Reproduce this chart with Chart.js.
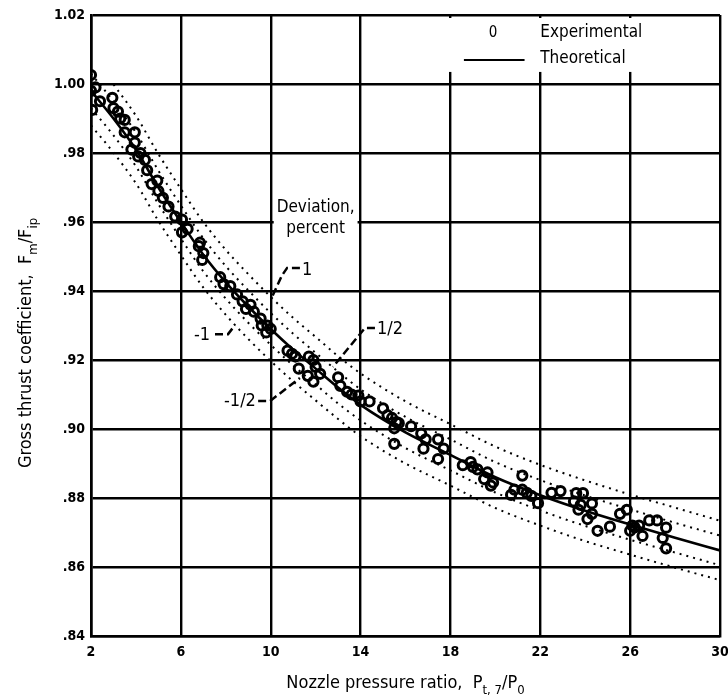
<!DOCTYPE html>
<html><head><meta charset="utf-8">
<script src="https://cdn.jsdelivr.net/npm/chart.js@4/dist/chart.umd.min.js"></script>
<style>html,body{margin:0;padding:0;background:#fff}#c{display:block}</style>
</head><body>
<canvas id="c" width="728" height="696"></canvas>
<script>
// ---- data ----
const pressureRatio = [2,3,4,5,6,7,8,9,10,11,12,13,14,16,18,20,22,24,26,28,30];
const theoretical   = [0.998,0.990,0.981,0.970,0.960,0.9505,0.9425,0.9355,0.929,0.923,0.9175,0.912,0.907,0.899,0.8925,0.886,0.8808,0.8763,0.8723,0.8685,0.8648];
const devPlus1      = [null,0.9999,0.9908,0.9797,0.9696,0.9600,0.9519,0.9449,0.9383,0.9322,0.9267,0.9211,0.9161,0.9080,0.9014,0.8949,0.8896,0.8851,0.8810,0.8772,0.8734];
const devPlusHalf   = [1.0030,0.9950,0.9859,0.9749,0.9648,0.9553,0.9472,0.9402,0.9336,0.9276,0.9221,0.9166,0.9115,0.9035,0.8970,0.8904,0.8852,0.8807,0.8767,0.8728,0.8691];
const devMinusHalf  = [0.9930,0.9851,0.9761,0.9652,0.9552,0.9457,0.9378,0.9308,0.9244,0.9184,0.9129,0.9074,0.9025,0.8945,0.8880,0.8816,0.8764,0.8719,0.8679,0.8642,0.8605];
const devMinus1     = [0.9880,0.9801,0.9712,0.9603,0.9504,0.9410,0.9331,0.9261,0.9197,0.9138,0.9083,0.9029,0.8979,0.8900,0.8836,0.8771,0.8720,0.8675,0.8636,0.8598,0.8562];

const expRatio = [2.0,2.0,2.05,2.4,2.2,2.95,3.0,3.2,3.3,3.5,3.5,3.95,3.95,3.8,4.1,4.2,4.4,4.5,4.7,4.95,5.0,5.2,5.45,5.75,6.05,6.05,6.3,6.85,6.95,6.8,7.0,7.75,7.9,8.2,8.5,8.75,8.9,9.1,9.25,9.55,9.6,9.85,9.8,10.0,10.75,10.95,11.1,11.25,11.7,11.9,12.0,11.65,11.9,12.2,13.0,13.1,13.4,13.6,13.9,14.0,14.4,15.0,15.2,15.4,15.5,15.6,15.7,15.5,16.25,16.7,16.8,16.9,17.45,17.45,17.7,18.55,18.9,19.0,19.2,19.5,19.65,19.8,19.9,20.7,20.85,21.2,21.2,21.4,21.6,21.9,22.5,22.9,23.5,23.6,23.9,23.7,23.8,24.3,24.1,24.3,24.55,25.1,25.55,25.85,26.0,26.1,26.2,26.4,26.55,26.85,27.2,27.6,27.45,27.6];
const expCoef  = [1.0026,0.998,0.9925,0.995,0.999,0.996,0.993,0.992,0.990,0.9896,0.986,0.986,0.983,0.981,0.979,0.980,0.978,0.975,0.971,0.972,0.969,0.967,0.9645,0.9616,0.9607,0.957,0.958,0.954,0.949,0.953,0.951,0.944,0.942,0.9414,0.939,0.937,0.9348,0.936,0.934,0.932,0.930,0.930,0.928,0.929,0.9227,0.9218,0.921,0.9175,0.921,0.920,0.918,0.9154,0.9137,0.916,0.915,0.9125,0.9108,0.910,0.9097,0.908,0.908,0.906,0.904,0.9032,0.9002,0.902,0.9017,0.8957,0.9008,0.8987,0.8943,0.897,0.897,0.8913,0.8943,0.8895,0.8904,0.889,0.8883,0.8855,0.8874,0.8836,0.8845,0.8809,0.8824,0.8865,0.8824,0.8815,0.8806,0.8785,0.8815,0.882,0.879,0.8814,0.8814,0.8766,0.878,0.8784,0.8739,0.8754,0.8705,0.8717,0.8754,0.8766,0.8705,0.872,0.8715,0.872,0.869,0.8735,0.8735,0.8714,0.8684,0.8654];

const xTickValues = [2,6,10,14,18,22,26,30];
const yTickValues = [0.84,0.86,0.88,0.90,0.92,0.94,0.96,0.98,1.00,1.02];
const yTickLabels = ['.84','.86','.88','.90','.92','.94','.96','.98','1.00','1.02'];

const xTitleParts = [['Nozzle pressure ratio,  P',0],['t, 7',1],['/P',0],['0',1]];
const yTitleParts = [['Gross thrust coefficient,  F',0],['m',1],['/F',0],['ip',1]];
const legendLabels = ['Experimental','Theoretical'];
const devLabel = {lines:['Deviation,','percent'], x:12.0, y:[0.9643,0.958], box:[10,14]};
const leaderLabels = [
  {text:'1',    x:11.62, y:0.9461, path:[[11.3,0.9467],[10.73,0.9467],[10.5,0.9445],[10.06,0.9383]]},
  {text:'-1',   x:6.94,  y:0.9272, path:[[7.52,0.9275],[8.1,0.9275],[8.41,0.9301]]},
  {text:'-1/2', x:8.63,  y:0.9081, path:[[9.44,0.9081],[9.97,0.9081],[11.3,0.9148]]},
  {text:'1/2',  x:15.31, y:0.9288, path:[[14.64,0.9293],[14.2,0.9293],[12.77,0.918]]}
];

const FONT = "'Liberation Sans Narrow','DejaVu Sans Condensed','Roboto Condensed','Liberation Sans',sans-serif";
const toXY = (xs, ys) => xs.map((x,i)=>({x, y: ys[i]})).filter(p=>p.y!==null);

function drawParts(ctx, parts, size, sub){
  let w = 0;
  parts.forEach(([t,s])=>{ctx.font = (s?sub:size)+'px '+FONT; w += ctx.measureText(t).width;});
  let cx = -w/2;
  parts.forEach(([t,s])=>{
    ctx.font = (s?sub:size)+'px '+FONT;
    ctx.fillText(t, cx, s?6:0);
    cx += ctx.measureText(t).width;
  });
}

const deco = {
  id:'deco',
  beforeDatasetsDraw(chart){
    const {ctx, chartArea:a, scales:{x,y}} = chart;
    ctx.save();
    ctx.fillStyle = '#fff';
    ctx.fillRect(x.getPixelForValue(14)+3, a.top+3, a.right-3-(x.getPixelForValue(14)+3), y.getPixelForValue(1.0035)-(a.top+3));
    const bx0 = x.getPixelForValue(devLabel.box[0])+3, bx1 = x.getPixelForValue(devLabel.box[1])-3;
    const by0 = y.getPixelForValue(devLabel.y[0])-13, by1 = y.getPixelForValue(devLabel.y[1])+13;
    ctx.fillRect(bx0, by0, bx1-bx0, by1-by0);
    ctx.restore();
  },
  afterDatasetsDraw(chart){
    const {ctx, chartArea:a, scales:{x,y}} = chart;
    ctx.save();
    ctx.fillStyle = '#000'; ctx.strokeStyle = '#000';
    ctx.textBaseline = 'middle';
    ctx.font = '17px '+FONT; ctx.textAlign = 'center';
    devLabel.lines.forEach((t,i)=>ctx.fillText(t, x.getPixelForValue(devLabel.x), y.getPixelForValue(devLabel.y[i])));
    ctx.font = '18px '+FONT;
    leaderLabels.forEach(l=>{
      ctx.textAlign = 'center';
      ctx.fillText(l.text, x.getPixelForValue(l.x), y.getPixelForValue(l.y));
      ctx.beginPath(); ctx.lineWidth = 2.5; ctx.setLineDash([8,4]);
      l.path.forEach(([px,py],i)=>{const X=x.getPixelForValue(px), Y=y.getPixelForValue(py); i?ctx.lineTo(X,Y):ctx.moveTo(X,Y);});
      ctx.stroke(); ctx.setLineDash([]);
    });
    const ly1 = a.top+18, ly2 = a.top+44;
    ctx.textAlign = 'center'; ctx.font = '15px '+FONT;
    ctx.fillText('0', x.getPixelForValue(19.9), ly1);
    ctx.beginPath(); ctx.lineWidth = 2; ctx.moveTo(x.getPixelForValue(18.6), ly2+1); ctx.lineTo(x.getPixelForValue(21.3), ly2+1); ctx.stroke();
    ctx.textAlign = 'left'; ctx.font = '17px '+FONT;
    ctx.fillText(legendLabels[0], x.getPixelForValue(22.0), ly1);
    ctx.fillText(legendLabels[1], x.getPixelForValue(22.0), ly2);
    ctx.textAlign = 'left'; ctx.textBaseline = 'alphabetic';
    ctx.save(); ctx.translate((a.left+a.right)/2, 688); drawParts(ctx, xTitleParts, 18, 13); ctx.restore();
    ctx.save(); ctx.translate(31, 343); ctx.rotate(-Math.PI/2); drawParts(ctx, yTitleParts, 18, 13); ctx.restore();
    ctx.restore();
  }
};

const bandStyle = {borderColor:'#000', borderWidth:2, borderDash:[2,5], pointRadius:0, showLine:true, fill:false, cubicInterpolationMode:'monotone'};

new Chart(document.getElementById('c'), {
  type:'scatter',
  data:{datasets:[
    {label:'+1%',   data:toXY(pressureRatio, devPlus1), ...bandStyle},
    {label:'+1/2%', data:toXY(pressureRatio, devPlusHalf), ...bandStyle},
    {label:'-1/2%', data:toXY(pressureRatio, devMinusHalf), ...bandStyle},
    {label:'-1%',   data:toXY(pressureRatio, devMinus1), ...bandStyle},
    {label:'Experimental', data:toXY(expRatio, expCoef), showLine:false, pointStyle:'circle', pointRadius:4.6, borderWidth:3, borderColor:'#000', backgroundColor:'rgba(255,255,255,0)'},
    {label:'Theoretical', data:toXY(pressureRatio, theoretical), showLine:true, borderColor:'#000', borderWidth:2.6, pointRadius:0, fill:false, cubicInterpolationMode:'monotone'}
  ]},
  options:{
    responsive:false, animation:false, devicePixelRatio:1,
    layout:{padding:{top:15, right:8, left:0, bottom:0}},
    plugins:{legend:{display:false}, tooltip:{enabled:false}},
    scales:{
      x:{type:'linear', min:2, max:30,
        afterBuildTicks:s=>{s.ticks = xTickValues.map(v=>({value:v}));},
        afterFit:s=>{s.height = 60; s.paddingRight = 0; s.paddingLeft = 0;},
        ticks:{color:'#000', padding:8, font:{family:FONT, size:14, weight:'bold'}, maxRotation:0, autoSkip:false},
        grid:{color:'#000', lineWidth:2.4, drawTicks:false},
        border:{display:true, color:'#000', width:2.6}
      },
      y:{type:'linear', min:0.84, max:1.02,
        afterBuildTicks:s=>{s.ticks = yTickValues.map(v=>({value:v}));},
        afterFit:s=>{s.width = 91; s.paddingTop = 0; s.paddingBottom = 0;},
        ticks:{color:'#000', padding:6, font:{family:FONT, size:14, weight:'bold'}, autoSkip:false,
          callback:(v,i)=>yTickLabels[i]},
        grid:{color:'#000', lineWidth:2.4, drawTicks:false},
        border:{display:true, color:'#000', width:2.6}
      }
    }
  },
  plugins:[deco]
});
</script>
</body></html>
